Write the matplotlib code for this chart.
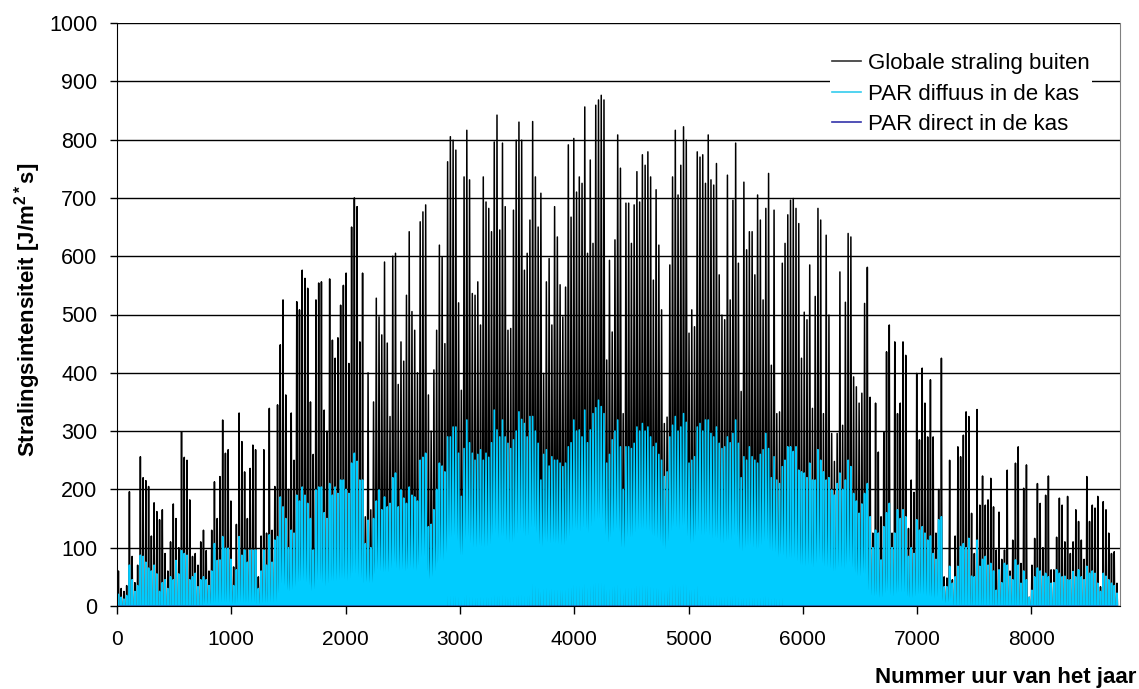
import numpy as np
import matplotlib
matplotlib.use('Agg')
import matplotlib.pyplot as plt

## data: daily peak per day of the year (J/m2*s), day 0 = 1 january ##

globaal_piek = [
    60, 30, 25, 35, 196, 85, 40, 70, 256, 220,
    215, 205, 120, 177, 162, 148, 165, 90, 60, 110,
    175, 150, 100, 299, 255, 250, 182, 85, 90, 70,
    110, 130, 95, 60, 130, 213, 150, 222, 319, 262,
    268, 180, 67, 140, 331, 282, 230, 150, 236, 276,
    268, 50, 120, 268, 125, 339, 130, 205, 345, 448,
    525, 362, 200, 331, 250, 522, 508, 576, 562, 545,
    350, 260, 525, 554, 556, 336, 300, 561, 456, 425,
    460, 516, 550, 571, 416, 650, 700, 685, 453, 571,
    153, 400, 165, 350, 528, 496, 465, 590, 451, 325,
    600, 605, 380, 453, 420, 533, 642, 505, 473, 400,
    659, 676, 688, 362, 300, 405, 473, 619, 598, 450,
    762, 805, 799, 782, 520, 370, 736, 816, 731, 536,
    533, 556, 482, 736, 693, 682, 642, 796, 842, 645,
    794, 685, 473, 476, 679, 799, 830, 799, 576, 605,
    662, 831, 736, 650, 708, 399, 556, 596, 482, 685,
    633, 551, 496, 547, 791, 667, 802, 710, 736, 725,
    856, 605, 765, 622, 859, 868, 876, 868, 422, 593,
    470, 628, 808, 751, 330, 691, 691, 622, 688, 745,
    693, 774, 756, 779, 736, 559, 714, 619, 508, 313,
    324, 585, 736, 816, 705, 756, 822, 799, 468, 508,
    479, 779, 770, 774, 725, 808, 731, 722, 759, 568,
    499, 491, 739, 525, 696, 794, 588, 368, 727, 611,
    642, 642, 568, 705, 662, 525, 682, 742, 413, 679,
    330, 333, 588, 622, 671, 696, 699, 682, 656, 425,
    504, 491, 585, 339, 531, 682, 662, 330, 636, 499,
    296, 248, 296, 573, 310, 521, 639, 633, 393, 376,
    348, 365, 519, 581, 358, 125, 348, 264, 153, 298,
    436, 482, 125, 453, 330, 348, 453, 430, 133, 216,
    195, 399, 285, 408, 348, 290, 388, 290, 125, 200,
    425, 50, 48, 250, 45, 120, 273, 256, 293, 333,
    325, 159, 90, 337, 173, 223, 173, 182, 219, 170,
    96, 161, 80, 96, 233, 60, 113, 245, 273, 73,
    202, 242, 15, 70, 116, 210, 176, 100, 190, 223,
    62, 62, 118, 185, 173, 110, 188, 90, 110, 165,
    145, 113, 80, 222, 145, 173, 168, 188, 33, 179,
    165, 125, 90, 93, 39,
]

par_diffuus_piek = [
    20, 15, 12, 18, 70, 45, 25, 35, 87, 85,
    75, 65, 60, 70, 55, 25, 40, 45, 30, 50,
    45, 78, 55, 95, 90, 87, 45, 50, 56, 33,
    45, 50, 45, 35, 60, 107, 78, 79, 119, 99,
    99, 80, 35, 62, 119, 87, 96, 75, 96, 96,
    96, 30, 60, 96, 70, 122, 75, 113, 119, 187,
    170, 150, 100, 130, 125, 190, 180, 204, 190, 176,
    150, 96, 199, 204, 204, 160, 150, 210, 190, 204,
    193, 216, 216, 200, 193, 245, 262, 248, 216, 216,
    107, 147, 100, 150, 180, 199, 165, 187, 170, 176,
    220, 228, 170, 199, 185, 176, 204, 190, 187, 180,
    250, 255, 262, 136, 140, 165, 200, 245, 240, 230,
    290, 290, 307, 307, 262, 188, 270, 319, 280, 262,
    250, 260, 268, 250, 262, 255, 280, 336, 302, 290,
    319, 290, 279, 270, 285, 300, 333, 320, 313, 290,
    325, 325, 300, 279, 216, 260, 268, 240, 256, 250,
    250, 245, 239, 245, 273, 280, 319, 300, 302, 290,
    336, 280, 302, 330, 340, 353, 342, 330, 245, 260,
    285, 300, 319, 273, 200, 273, 273, 270, 279, 307,
    300, 313, 300, 307, 290, 273, 279, 260, 250, 222,
    230, 290, 310, 325, 300, 307, 330, 315, 245, 250,
    256, 307, 313, 300, 319, 319, 296, 290, 307, 279,
    270, 273, 290, 280, 296, 319, 279, 220, 256, 250,
    273, 256, 250, 245, 260, 268, 296, 270, 220, 256,
    216, 210, 239, 250, 273, 273, 265, 273, 233, 230,
    228, 220, 245, 216, 216, 268, 250, 230, 216, 220,
    199, 190, 210, 228, 200, 216, 250, 239, 193, 180,
    159, 175, 193, 210, 153, 100, 130, 125, 79, 136,
    160, 176, 100, 125, 165, 150, 165, 153, 85, 100,
    90, 148, 130, 136, 125, 113, 120, 90, 80, 148,
    153, 33, 33, 68, 39, 50, 68, 102, 107, 100,
    116, 51, 50, 113, 68, 80, 85, 70, 73, 60,
    27, 62, 40, 73, 70, 51, 45, 79, 70, 39,
    60, 45, 15, 27, 50, 65, 60, 51, 56, 50,
    39, 40, 62, 56, 50, 51, 45, 45, 59, 50,
    62, 50, 45, 68, 56, 60, 56, 39, 25, 56,
    51, 45, 39, 35, 22,
]

par_direct_piek = [0] * 365

# daylight window per month (hour of the day)
maand_dagen = [31, 28, 31, 30, 31, 30, 31, 31, 30, 31, 30, 31]
zon_op = [8.5, 7.5, 6.5, 5.5, 5.0, 4.5, 4.5, 5.0, 6.0, 7.0, 7.5, 8.5]
zon_onder = [16.5, 17.5, 18.5, 19.5, 20.5, 21.0, 21.0, 20.5, 19.5, 18.0, 16.5, 16.5]
middag = 12.5

x_ticks = [0, 1000, 2000, 3000, 4000, 5000, 6000, 7000, 8000]
y_ticks = [0, 100, 200, 300, 400, 500, 600, 700, 800, 900, 1000]

labels = ['Globale straling buiten', 'PAR diffuus in de kas', 'PAR direct in de kas']
kleuren = ['#000000', '#00CCFF', '#333399']
legend_kleuren = ['#333333', '#33CCEE', '#3333AA']


## build day curves: zero at night, peak at noon ##
dag = np.arange(365)
maand = np.repeat(np.arange(12), maand_dagen)
t_op = dag * 24 + np.array(zon_op)[maand]
t_mid = dag * 24 + middag
t_onder = dag * 24 + np.array(zon_onder)[maand]
nul = np.zeros(365)

def dagcurve(piek):
	x = np.column_stack([t_op, t_mid, t_onder]).ravel()
	y = np.column_stack([nul, np.array(piek, dtype=float), nul]).ravel()
	return x, y


plt.rcParams['font.family'] = ['Liberation Sans', 'DejaVu Sans']
plt.rcParams['mathtext.fontset'] = 'custom'
plt.rcParams['mathtext.rm'] = 'Liberation Sans'
plt.rcParams['mathtext.bf'] = 'Liberation Sans:bold'

fig = plt.figure(figsize=(11.39, 6.89), dpi=100)
ax = fig.add_axes([117/1139, 1 - 606/689, 1003/1139, 583/689])

lijnen = []
for piek, kleur, lw in zip([globaal_piek, par_diffuus_piek, par_direct_piek], kleuren, [1.1, 1.2, 0.8]):
	x, y = dagcurve(piek)
	l, = ax.plot(x, y, color=kleur, lw=lw, zorder=2)
	lijnen.append(l)

ax.set_xlim(0, 8775)
ax.set_ylim(0, 1000)
ax.set_xticks(x_ticks)
ax.set_yticks(y_ticks)
ax.tick_params(axis='x', direction='out', length=6, width=1, pad=11, labelsize=15)
ax.tick_params(axis='y', direction='out', length=5, width=1, pad=9, labelsize=15.5)

ax.yaxis.grid(True, color='black', lw=1.0)
ax.set_axisbelow(True)
ax.spines['top'].set_visible(False)
ax.spines['right'].set_color('#808080')
ax.spines['left'].set_color('black')
ax.spines['bottom'].set_color('black')

fig.text(28/1139, 1 - 310/689, 'Stralingsintensiteit [J/m$^{\\mathbf{2*}}$s]',
	rotation=90, ha='center', va='center', fontsize=16, fontweight='bold')
fig.text(1136/1139, 1 - 677/689, 'Nummer uur van het jaar',
	ha='right', va='center', fontsize=16, fontweight='bold')

leg = ax.legend(lijnen, labels, loc='upper right', bbox_to_anchor=(0.983, 0.971),
	fontsize=16, frameon=True, fancybox=False, framealpha=1, edgecolor='none',
	handlelength=1.3, handletextpad=0.3, labelspacing=0.42, borderpad=0.1)
for h, c in zip(leg.get_lines(), legend_kleuren):
	h.set_color(c)
	h.set_linewidth(1.2)

fig.savefig('out.png', dpi=100)
